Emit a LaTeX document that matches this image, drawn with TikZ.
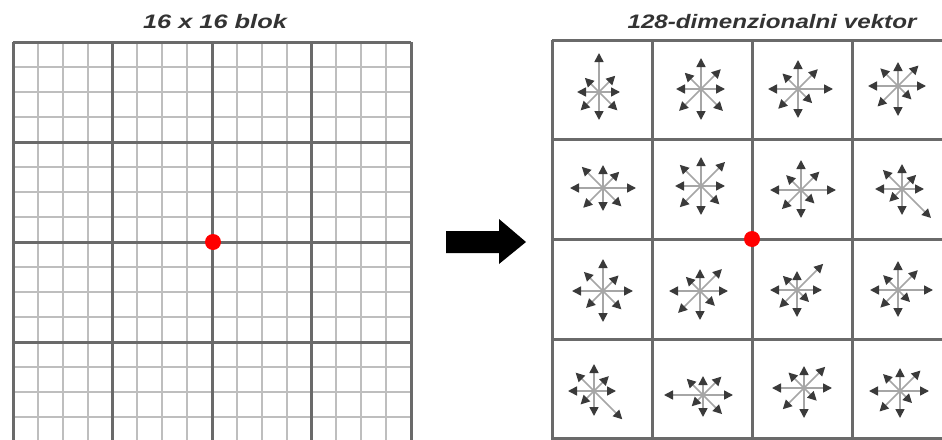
\documentclass[tikz,border=0pt]{standalone}
\usepackage{fontspec}
\setmainfont{Liberation Sans}
\usetikzlibrary{arrows.meta}
\definecolor{majorc}{HTML}{6A6A6A}
\definecolor{minorc}{HTML}{BEBEBE}
\definecolor{vline}{HTML}{A6A6A6}
\definecolor{vhead}{HTML}{3A3A3A}
\definecolor{titlec}{HTML}{333333}
\newcommand\vstar[9]{%
  \foreach \a/\l in {0/#2,45/#3,90/#4,135/#5,180/#6,225/#7,270/#8,315/#9}
    \draw[vec] #1 -- ++(\a:\l pt);
}
\tikzset{
  majorline/.style={draw=majorc, line width=3pt},
  minorline/.style={draw=minorc, line width=1.9pt},
  cellline/.style={draw=majorc, line width=3pt},
  vec/.style={draw=vline, line width=1.6pt, -{Triangle[length=9pt,width=9pt,color=vhead]}},
  reddot/.style={circle, fill=red, inner sep=0pt, minimum size=16pt},
  titletext/.style={font=\fontsize{19.5}{22}\selectfont\bfseries\itshape, text=titlec, inner sep=0pt},
  blockarrow/.style={fill=black}
}
\begin{document}
\begin{tikzpicture}[x=1pt,y=-1pt]
\useasboundingbox (0,0) rectangle (942,439);
\clip (0,0) rectangle (942,439);
\fill[white] (0,0) rectangle (942,439);
% titles
\node[titletext] (title1) at (215,22) {\scalebox{1.3}[1]{16 x 16 blok}};
\node[titletext] (title2) at (772,22) {\scalebox{1.24}[1]{128-dimenzionalni vektor}};
% left grid: minor lines
\foreach \i in {1,2,3,5,6,7,9,10,11,13,14,15}{
  \draw[minorline] ({13+24.875*\i},42) -- ({13+24.875*\i},445);
  \draw[minorline] (13,{42+25*\i}) -- (411,{42+25*\i});
}
% left grid: major lines
\foreach \i in {0,1,2,3,4}{
  \draw[majorline] ({13+99.5*\i},42) -- ({13+99.5*\i},445);
}
\foreach \i in {0,1,2,3}{
  \draw[majorline] (13,{42+100*\i}) -- (411,{42+100*\i});
}
% block arrow
\fill[blockarrow] (446,231) -- (499,231) -- (499,219) -- (526,242) -- (499,264) -- (499,253) -- (446,253) -- cycle;
% right grid
\foreach \i in {0,1,2,3,4}{
  \draw[cellline] ({552+100*\i},40) -- ({552+100*\i},440);
  \draw[cellline] (552,{40+99.7*\i}) -- (960,{40+99.7*\i});
}
% descriptor stars: E NE N NW W SW S SE
\vstar{(599,92)}{21}{23}{39}{20}{22}{26}{28}{26}
\vstar{(701,89)}{24}{28}{31}{23}{25}{31}{31}{31}
\vstar{(798,89)}{35}{28}{29}{22}{30}{28}{29}{20}
\vstar{(898,86)}{28}{29}{24}{25}{30}{29}{30}{19}
\vstar{(603,188)}{33}{23}{23}{30}{33}{28}{23}{26}
\vstar{(701,186)}{24}{34}{29}{30}{26}{30}{29}{26}
\vstar{(801,190)}{35}{26}{30}{21}{31}{27}{28}{19}
\vstar{(902,189)}{22}{20}{25}{27}{27}{18}{26}{41}
\vstar{(603,291)}{30}{22}{32}{27}{31}{24}{31}{26}
\vstar{(700,291)}{28}{31}{22}{20}{31}{31}{29}{21}
\vstar{(797,290)}{25}{37}{19}{20}{27}{25}{27}{17}
\vstar{(898,290)}{35}{28}{29}{21}{28}{25}{27}{17}
\vstar{(594,391)}{22}{21}{27}{26}{26}{19}{25}{40}
\vstar{(703,395)}{30}{26}{19}{23}{39}{16}{22}{27}
\vstar{(804,388)}{28}{30}{22}{22}{32}{30}{30}{18}
\vstar{(900,391)}{29}{29}{23}{24}{31}{29}{27}{17}
% keypoints
\node[reddot] (kp1) at (213,242) {};
\node[reddot] (kp2) at (752,239) {};
\end{tikzpicture}
\end{document}
